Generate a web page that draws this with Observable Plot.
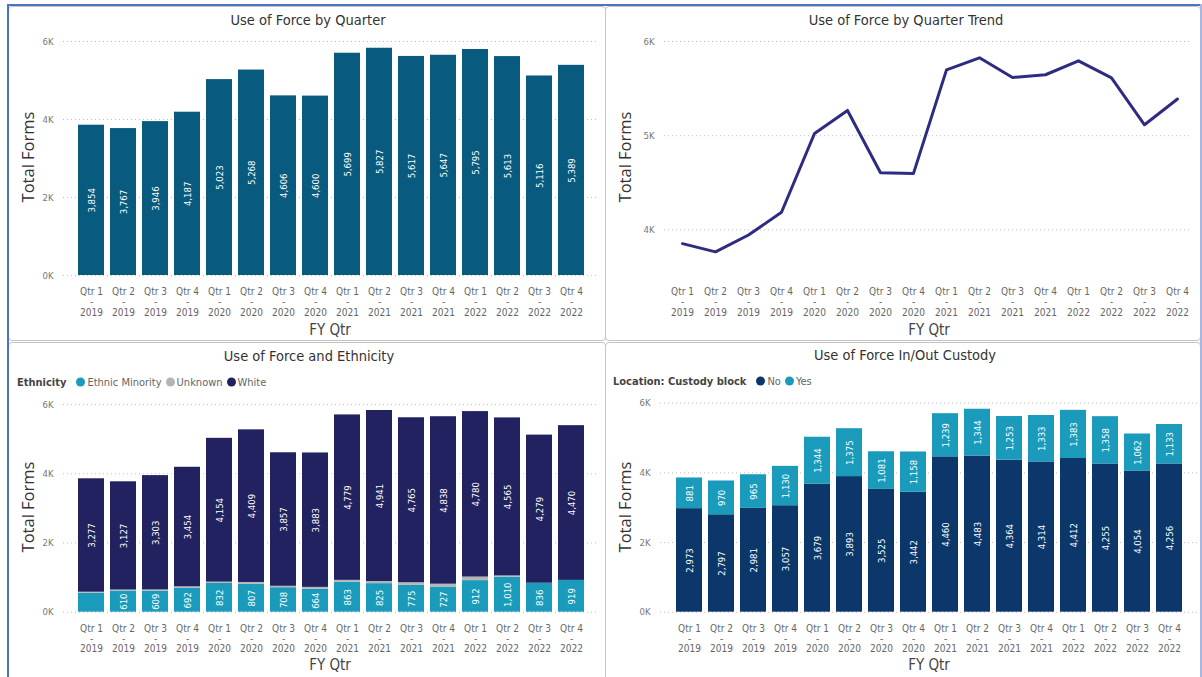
<!DOCTYPE html>
<html>
<head>
<meta charset="utf-8">
<script src="https://cdn.jsdelivr.net/npm/d3@7"></script>
<script src="https://cdn.jsdelivr.net/npm/@observablehq/plot@0.6"></script>
<style>
  body { margin: 0; background: #fff; }
  #root { position: relative; width: 1202px; height: 677px; overflow: hidden; background: #fff;
          font-family: "DejaVu Sans Condensed", "DejaVu Sans", sans-serif; }
  .panel { position: absolute; border: 1px solid #c4c4c4; border-radius: 4px; box-sizing: border-box; }
  .chart { position: absolute; }
  .title { position: absolute; transform: translate(-50%, -50%); font-size: 14.5px; color: #333; white-space: nowrap; }
  .ytitle { position: absolute; transform: translate(-50%, -50%) rotate(-90deg); font-family: "Open Sans", sans-serif;
            font-size: 16.5px; color: #333; white-space: nowrap; }
  .xtitle { position: absolute; transform: translate(-50%, -50%); font-size: 15px; color: #444; white-space: nowrap; }
  .legend { position: absolute; transform: translate(0, -50%); font-size: 11px; color: #666; white-space: nowrap; display: flex; align-items: center; }
  .legend b { color: #444; margin-right: 6px; }
  .dot { display: inline-block; width: 9px; height: 9px; border-radius: 50%; margin: 0 2px 0 4px; }
  .frameTop { position: absolute; left: 7px; top: 4px; width: 1195px; height: 2px; background: #4a73c6; }
  .frameLeft { position: absolute; left: 7px; top: 4px; width: 2px; height: 680px; background: #4a73c6; }
  .frameRight { position: absolute; left: 1200px; top: 4px; width: 2px; height: 680px; background: #a9b6e3; }
</style>
</head>
<body>
<div id="root">
  <div class="panel" style="left:8px;top:6px;width:598px;height:335px"></div>
  <div class="panel" style="left:605px;top:6px;width:596px;height:335px"></div>
  <div class="panel" style="left:8px;top:342px;width:598px;height:340px"></div>
  <div class="panel" style="left:605px;top:342px;width:596px;height:340px"></div>
  <div class="frameTop"></div><div class="frameLeft"></div><div class="frameRight"></div>

  <div class="chart" id="tl" style="left:0;top:0"></div>
  <div class="chart" id="tr" style="left:605px;top:0"></div>
  <div class="chart" id="bl" style="left:0;top:341px"></div>
  <div class="chart" id="br" style="left:605px;top:341px"></div>

  <div class="title" style="left:308px;top:20px">Use of Force by Quarter</div>
  <div class="title" style="left:906px;top:20px">Use of Force by Quarter Trend</div>
  <div class="title" style="left:309px;top:356px">Use of Force and Ethnicity</div>
  <div class="title" style="left:905px;top:355px">Use of Force In/Out Custody</div>

  <div class="ytitle" style="left:27px;top:157px">Total Forms</div>
  <div class="ytitle" style="left:624px;top:157px">Total Forms</div>
  <div class="ytitle" style="left:27px;top:507px">Total Forms</div>
  <div class="ytitle" style="left:624px;top:507px">Total Forms</div>

  <div class="xtitle" style="left:330px;top:330px">FY Qtr</div>
  <div class="xtitle" style="left:929px;top:330px">FY Qtr</div>
  <div class="xtitle" style="left:330px;top:665px">FY Qtr</div>
  <div class="xtitle" style="left:929px;top:665px">FY Qtr</div>

  <div class="legend" id="legEth" style="left:17px;top:382px"></div>
  <div class="legend" id="legCus" style="left:613px;top:381px"></div>
</div>
<script>
// ---------- data ----------
const quarters = ["Qtr 1 - 2019","Qtr 2 - 2019","Qtr 3 - 2019","Qtr 4 - 2019",
                  "Qtr 1 - 2020","Qtr 2 - 2020","Qtr 3 - 2020","Qtr 4 - 2020",
                  "Qtr 1 - 2021","Qtr 2 - 2021","Qtr 3 - 2021","Qtr 4 - 2021",
                  "Qtr 1 - 2022","Qtr 2 - 2022","Qtr 3 - 2022","Qtr 4 - 2022"];
const totalForms = [3854,3767,3946,4187,5023,5268,4606,4600,5699,5827,5617,5647,5795,5613,5116,5389];

const ethnicitySeries = ["Ethnic Minority","Unknown","White"];
const ethnicityColors = ["#1a9bbb","#b5b5b5","#232260"];
const ethnicMinority = [548,610,609,692,832,807,708,664,863,825,775,727,912,1010,836,919];
const ethnicUnknown  = [29,30,34,41,37,52,41,53,57,61,77,82,103,38,1,0];
const ethnicWhite    = [3277,3127,3303,3454,4154,4409,3857,3883,4779,4941,4765,4838,4780,4565,4279,4470];

const custodySeries = ["No","Yes"];
const custodyColors = ["#0c376a","#1a9bbb"];
const custodyNo  = [2973,2797,2981,3057,3679,3893,3525,3442,4460,4483,4364,4314,4412,4255,4054,4256];
const custodyYes = [881,970,965,1130,1344,1375,1081,1158,1239,1344,1253,1333,1383,1358,1062,1133];

const barTicks = [0,2000,4000,6000];
const trendTicks = [4000,5000,6000];

// ---------- helpers ----------
const fmt = d3.format(",");
const kfmt = d => (d / 1000) + "K";
const qfmt = d => d.replace(" - ", "\n-\n");
const font = "'DejaVu Sans Condensed', 'DejaVu Sans', sans-serif";
const baseStyle = {fontFamily: font, fontSize: "10px", color: "#666", background: "transparent", overflow: "visible"};

function axes(tickPadX, yTicks) {
  return [
    Plot.gridY(yTicks, {stroke: "#bdbdbd", strokeOpacity: 1, strokeDasharray: "1,3"}),
    Plot.axisY(yTicks, {tickSize: 0, tickPadding: 10, tickFormat: kfmt, fontSize: 9.5, fill: "#777", label: null}),
    Plot.axisX({tickSize: 0, tickPadding: tickPadX, tickFormat: qfmt, fontSize: 10, lineHeight: 1.04, fill: "#666", label: null})
  ];
}

// ---------- top-left: bars ----------
const totalData = quarters.map((q, i) => ({q, value: totalForms[i]}));
document.getElementById("tl").append(Plot.plot({
  width: 605, height: 340,
  marginLeft: 63, marginRight: 8, marginTop: 41, marginBottom: 65,
  style: baseStyle,
  x: {domain: quarters, padding: 0.2, range: [69.5, 592.8], axis: null},
  y: {domain: [0, 6000], axis: null},
  marks: [
    ...axes(12, barTicks),
    Plot.barY(totalData, {x: "q", y: "value", fill: "#085a7e"}),
    Plot.text(totalData, {x: "q", y: d => d.value / 2, text: d => fmt(d.value), rotate: -90,
      fill: "white", fontSize: 9.5, fontWeight: 500})
  ]
}));

// ---------- top-right: line ----------
document.getElementById("tr").append(Plot.plot({
  width: 597, height: 340,
  marginLeft: 59, marginRight: 11, marginTop: 41, marginBottom: 63.5,
  style: baseStyle,
  x: {type: "point", domain: quarters, padding: 0, range: [71.6, 577.7], axis: null},
  y: {domain: [3500, 6000], axis: null},
  marks: [
    ...axes(10.5, trendTicks),
    Plot.line(totalData, {x: "q", y: "value", stroke: "#2e2c80", strokeWidth: 3})
  ]
}));

// ---------- bottom-left: ethnicity stacked ----------
const ethData = [];
quarters.forEach((q, i) => {
  ethData.push({q, series: "Ethnic Minority", value: ethnicMinority[i]});
  ethData.push({q, series: "Unknown", value: ethnicUnknown[i]});
  ethData.push({q, series: "White", value: ethnicWhite[i]});
});
document.getElementById("bl").append(Plot.plot({
  width: 605, height: 336,
  marginLeft: 63, marginRight: 8, marginTop: 63, marginBottom: 65.3,
  style: baseStyle,
  x: {domain: quarters, padding: 0.2, range: [69.5, 592.8], axis: null},
  y: {domain: [0, 6000], axis: null},
  color: {domain: ethnicitySeries, range: ethnicityColors},
  marks: [
    ...axes(12, barTicks),
    Plot.barY(ethData, {x: "q", y: "value", fill: "series", order: ethnicitySeries}),
    Plot.text(ethData, Plot.stackY({x: "q", y: "value", z: "series", order: ethnicitySeries,
      text: d => d.series !== "Unknown" && d.value >= 600 ? fmt(d.value) : null,
      rotate: -90, fill: "white", fontSize: 9.5, fontWeight: 500}))
  ]
}));

// ---------- bottom-right: custody stacked ----------
const cusData = [];
quarters.forEach((q, i) => {
  cusData.push({q, series: "No", value: custodyNo[i]});
  cusData.push({q, series: "Yes", value: custodyYes[i]});
});
document.getElementById("br").append(Plot.plot({
  width: 597, height: 336,
  marginLeft: 55, marginRight: 3, marginTop: 61.7, marginBottom: 65.3,
  style: baseStyle,
  x: {domain: quarters, padding: 0.2, range: [60.9, 585.8], axis: null},
  y: {domain: [0, 6000], axis: null},
  color: {domain: custodySeries, range: custodyColors},
  marks: [
    ...axes(12, barTicks),
    Plot.barY(cusData, {x: "q", y: "value", fill: "series", order: custodySeries}),
    Plot.text(cusData, Plot.stackY({x: "q", y: "value", z: "series", order: custodySeries,
      text: d => fmt(d.value), rotate: -90, fill: "white", fontSize: 9.5, fontWeight: 500}))
  ]
}));

// ---------- legends ----------
function legend(el, title, names, colors) {
  const node = document.getElementById(el);
  const b = document.createElement("b"); b.textContent = title; node.append(b);
  names.forEach((n, i) => {
    const dot = document.createElement("span"); dot.className = "dot"; dot.style.background = colors[i];
    const t = document.createElement("span"); t.textContent = n;
    node.append(dot, t);
  });
}
legend("legEth", "Ethnicity", ethnicitySeries, ethnicityColors);
legend("legCus", "Location: Custody block", custodySeries, custodyColors);
</script>
</body>
</html>
